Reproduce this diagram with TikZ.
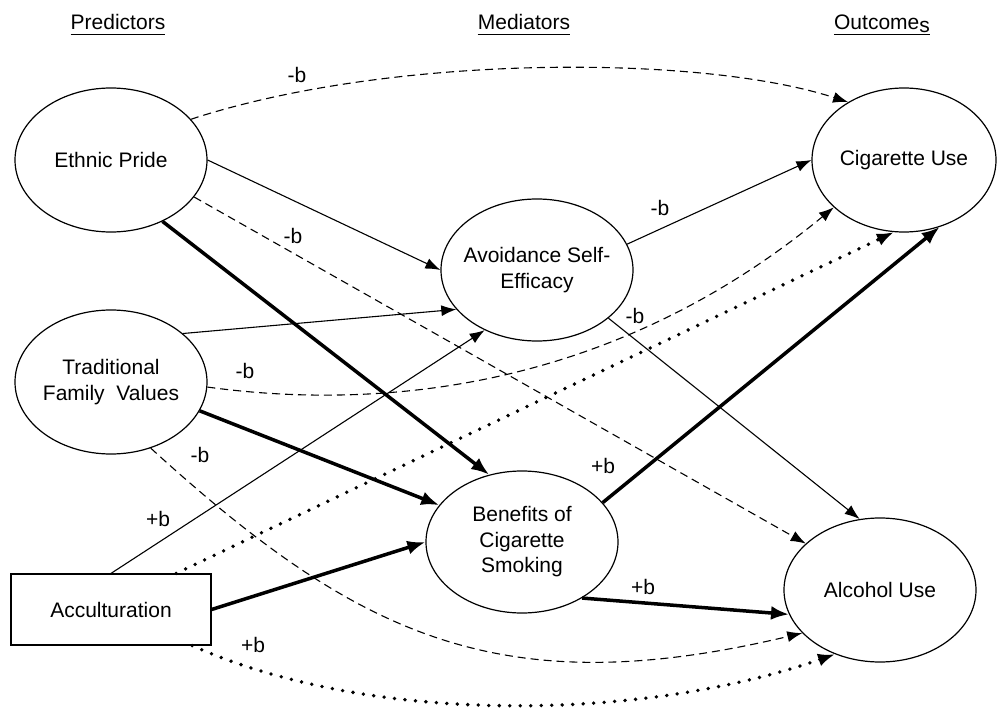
\documentclass[tikz,border=0pt]{standalone}
\usepackage{fontspec}
\setmainfont{Liberation Sans}
\usetikzlibrary{arrows.meta,shapes.geometric}
\begin{document}
\begin{tikzpicture}[x=1pt,y=-1pt,
  font=\fontsize{21}{25.5}\selectfont,
  ell/.style={draw,ellipse,line width=1.2pt,inner sep=0pt,minimum width=192pt,minimum height=144pt},
  accbox/.style={draw,rectangle,line width=1.2pt,minimum width=200pt,minimum height=71pt,inner sep=0pt},
  txt/.style={align=center,inner sep=0pt},
  hdr/.style={inner sep=0pt,anchor=base},
  lbl/.style={inner sep=0pt},
  cThin/.style={line width=1.1pt,-{Latex[length=15pt,width=11pt]}},
  cThick/.style={line width=3.5pt,-{Latex[length=18pt,width=14pt]}},
  cDash/.style={line width=1.1pt,dash pattern=on 8pt off 5pt,-{Latex[length=15pt,width=11pt]}},
  cDot/.style={line width=3.8pt,line cap=round,dash pattern=on 0pt off 10.5pt,-{Latex[length=17pt,width=13pt]}},
  uline/.style={line width=1.2pt},
]
\useasboundingbox (0,0) rectangle (997,709);

% headers
\node[hdr] (hp) at (118,30) {Predictors};
\node[hdr] (hm) at (524,30) {Mediators};
\node[hdr] (ho) at (882,30) {Outcome\raisebox{-3pt}{s}};
\draw[uline] ([yshift=-4.5pt]hp.base west) -- ([yshift=-4.5pt]hp.base east);
\draw[uline] ([yshift=-4.5pt]hm.base west) -- ([yshift=-4.5pt]hm.base east);
\draw[uline] ([yshift=-4.5pt]ho.base west) -- ([yshift=-4.5pt]ho.base east);

% nodes
\node[ell] (ep) at (111,160) {};
\node[txt] (ept) at (ep) {Ethnic Pride};
\node[ell] (tfv) at (111,382) {};
\node[txt] (tfvt) at (tfv) {Traditional\\Family\ \ Values};
\node[accbox] (acc) at (111,609.5) {};
\node[txt] (acct) at (acc) {Acculturation};
\node[ell,minimum height=142pt] (ase) at (537,270) {};
\node[txt] (aset) at (ase) {Avoidance Self-\\Efficacy};
\node[ell,minimum height=142pt] (bcs) at (522,542) {};
\node[txt] (bcst) at (bcs) {Benefits of\\Cigarette\\Smoking};
\node[ell,minimum width=184pt] (cu) at (904,160) {};
\node[txt] (cut) at (cu) {Cigarette Use};
\node[ell] (au) at (880,590) {};
\node[txt] (aut) at (au) {Alcohol Use};

% connectors
\draw[cDash] (ep.27) .. controls (390,54) and (700,54) .. (cu.134);
\draw[cThin] (ep.0) -- (ase.180);
\draw[cDash] (ep.-24) -- (au.148);
\draw[cThick] (ep.-50) -- (bcs.116);
\draw[cThin] (tfv.34) -- (ase.206);
\draw[cDash] (tfv.-3) .. controls (360,408) and (600,400) .. (cu.214);
\draw[cThick] (tfv.-18) -- (bcs.156);
\draw[cDash] (tfv.-59) .. controls (357,636) and (500,705) .. (au.209);
\draw[cThin] (acc.90) -- (ase.229);
\draw[cDot] (acc.29) -- (cu.262);
\draw[cThick] (acc.0) -- (bcs.180);
\draw[cDot] (acc.-24) .. controls (370,725) and (640,722) .. (au.235);
\draw[cThin] (ase.16) -- (cu.180);
\draw[cThin] (ase.-34) -- (au.106);
\draw[cThick] (bcs.26) -- (cu.-62);
\draw[cThick] (bcs.-43) -- (au.195);

% labels
\node[lbl] (l1) at (297,75) {-b};
\node[lbl] (l2) at (293,236) {-b};
\node[lbl] (l3) at (245,371) {-b};
\node[lbl] (l4) at (200,455) {-b};
\node[lbl] (l5) at (158,519) {+b};
\node[lbl] (l6) at (253,645) {+b};
\node[lbl] (l7) at (660,208) {-b};
\node[lbl] (l8) at (635,316) {-b};
\node[lbl] (l9) at (603,466) {+b};
\node[lbl] (l10) at (643,587) {+b};
\end{tikzpicture}
\end{document}
